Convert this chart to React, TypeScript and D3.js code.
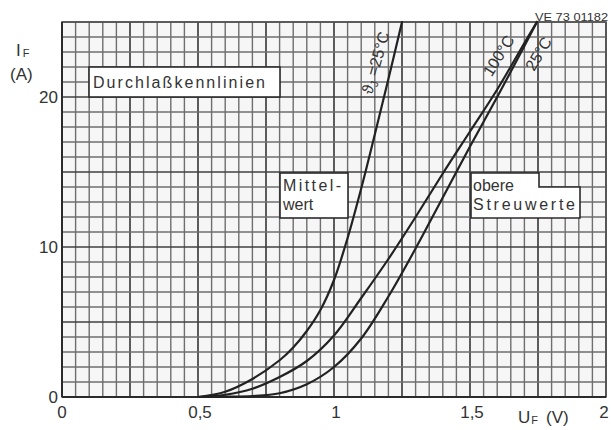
import { curveCatmullRom, line, range, scaleLinear } from "d3";

const WIDTH = 611;
const HEIGHT = 430;

// forward voltage (V) / forward current (A)
const MITTEL_U = [0.5, 0.6, 0.7, 0.8, 0.85, 0.9, 0.95, 1.0, 1.05, 1.1, 1.15, 1.2, 1.25];
const MITTEL_I = [0, 0.35, 1.2, 2.45, 3.3, 4.4, 5.8, 7.8, 10.6, 13.9, 17.5, 21.2, 25];

const HOT_U = [0.5, 0.6, 0.7, 0.8, 0.9, 1.0, 1.1, 1.2, 1.3, 1.4, 1.5, 1.6, 1.7, 1.746];
const HOT_I = [0, 0.15, 0.55, 1.33, 2.4, 4.1, 6.6, 9.2, 12.0, 14.9, 17.7, 20.5, 23.6, 25];

const UPPER_U = [0.5, 0.6, 0.7, 0.8, 0.9, 1.0, 1.1, 1.2, 1.3, 1.4, 1.5, 1.6, 1.7, 1.746];
const UPPER_I = [0, 0.02, 0.06, 0.25, 0.85, 2.0, 3.9, 6.7, 9.9, 13.3, 16.7, 20.0, 23.4, 25];

const X_TICKS = [0, 0.5, 1, 1.5, 2];
const X_LABELS = ["0", "0,5", "1", "1,5", "2"];
const Y_TICKS = [0, 10, 20];

const x = scaleLinear().domain([0, 2]).range([62, 606]);
const y = scaleLinear().domain([0, 25]).range([397, 22]);

const FONT = "'Liberation Sans', Arial, sans-serif";
const INK = "#2b2b2b";

function curvePath(us: number[], is: number[]) {
  const pts = us.map((u, i) => [u, is[i]] as [number, number]);
  const gen = line<[number, number]>()
    .x((d) => x(d[0]))
    .y((d) => y(d[1]))
    .curve(curveCatmullRom.alpha(0.5));
  return gen(pts) ?? "";
}

export default function App() {
  const vLines = range(0, 2.0001, 0.05);
  const hLines = range(0, 25.0001, 1);

  return (
    <svg
      width={WIDTH}
      height={HEIGHT}
      viewBox={`0 0 ${WIDTH} ${HEIGHT}`}
      style={{ position: "fixed", left: 0, top: 0, background: "#fff" }}
      fontFamily={FONT}
    >
      <rect x={x(0)} y={y(25)} width={x(2) - x(0)} height={y(0) - y(25)} fill="#f6f6f6" />

      {vLines.map((v, i) => (
        <line
          key={"v" + i}
          x1={x(v)}
          x2={x(v)}
          y1={y(0)}
          y2={y(25)}
          stroke={i % 5 === 0 ? "#404040" : "#6e6e6e"}
          strokeWidth={i % 5 === 0 ? 1.7 : 1.4}
        />
      ))}
      {hLines.map((h, i) => (
        <line
          key={"h" + i}
          x1={x(0)}
          x2={x(2)}
          y1={y(h)}
          y2={y(h)}
          stroke={i % 5 === 0 ? "#404040" : "#6e6e6e"}
          strokeWidth={i % 5 === 0 ? 1.7 : 1.4}
        />
      ))}
      <rect
        x={x(0)}
        y={y(25)}
        width={x(2) - x(0)}
        height={y(0) - y(25)}
        fill="none"
        stroke="#555"
        strokeWidth={1.5}
      />
      <line x1={x(0)} x2={x(0)} y1={y(0)} y2={y(25)} stroke={INK} strokeWidth={2} />
      <line x1={x(0)} x2={x(2)} y1={y(0)} y2={y(0)} stroke={INK} strokeWidth={2} />

      {/* curves */}
      <g fill="none" stroke="#222" strokeWidth={2.2} strokeLinecap="round">
        <path d={curvePath(MITTEL_U, MITTEL_I)} />
        <path d={curvePath(HOT_U, HOT_I)} />
        <path d={curvePath(UPPER_U, UPPER_I)} />
      </g>

      {/* label boxes */}
      <g fill="#fff" stroke={INK} strokeWidth={1.6}>
        <rect x={89} y={67} width={191} height={30} />
        <rect x={280} y={173} width={68} height={45} />
        <path d="M471,173 H539 V187 H580 V218 H471 Z" />
      </g>
      <g fill="#333" fontSize={16}>
        <text x={93} y={88} textLength={172} lengthAdjust="spacing">
          Durchlaßkennlinien
        </text>
        <text x={283} y={191} textLength={58} lengthAdjust="spacing">
          Mittel-
        </text>
        <text x={283} y={210}>wert</text>
        <text x={473} y={191}>obere</text>
        <text x={473} y={210} textLength={102} lengthAdjust="spacing">
          Streuwerte
        </text>
      </g>

      {/* curve labels */}
      <g fill="#333" fontSize={16}>
        <text transform="translate(376,63) rotate(-74)" textAnchor="middle" dy={5}>
          ϑ<tspan fontSize={11} dy={3}>J</tspan>
          <tspan dy={-3}> =25°C</tspan>
        </text>
        <text transform="translate(499,56) rotate(-58)" textAnchor="middle" dy={5}>
          100°C
        </text>
        <text transform="translate(539,54) rotate(-59)" textAnchor="middle" dy={5}>
          25°C
        </text>
      </g>

      {/* axes text */}
      <g fill="#333" fontSize={17}>
        {Y_TICKS.map((t) => (
          <text key={"yt" + t} x={58} y={y(t) + 6} textAnchor="end">
            {t}
          </text>
        ))}
        {X_TICKS.map((t, i) => (
          <text
            key={"xt" + t}
            x={i === 0 ? x(t) : i === X_TICKS.length - 1 ? x(t) - 2 : x(t) + 2}
            y={418}
            textAnchor="middle"
          >
            {X_LABELS[i]}
          </text>
        ))}
        <text x={16} y={56}>
          I<tspan fontSize={11} dx={2} dy={1}>F</tspan>
        </text>
        <text x={10} y={80}>(A)</text>
        <text x={518} y={423}>
          U<tspan fontSize={11} dx={1} dy={1}>F</tspan>
          <tspan dx={8} dy={-1}>(V)</tspan>
        </text>
      </g>
      <text x={535} y={21} fontSize={11} fill="#333" textLength={73} lengthAdjust="spacingAndGlyphs">
        VE 73 01182
      </text>
    </svg>
  );
}
